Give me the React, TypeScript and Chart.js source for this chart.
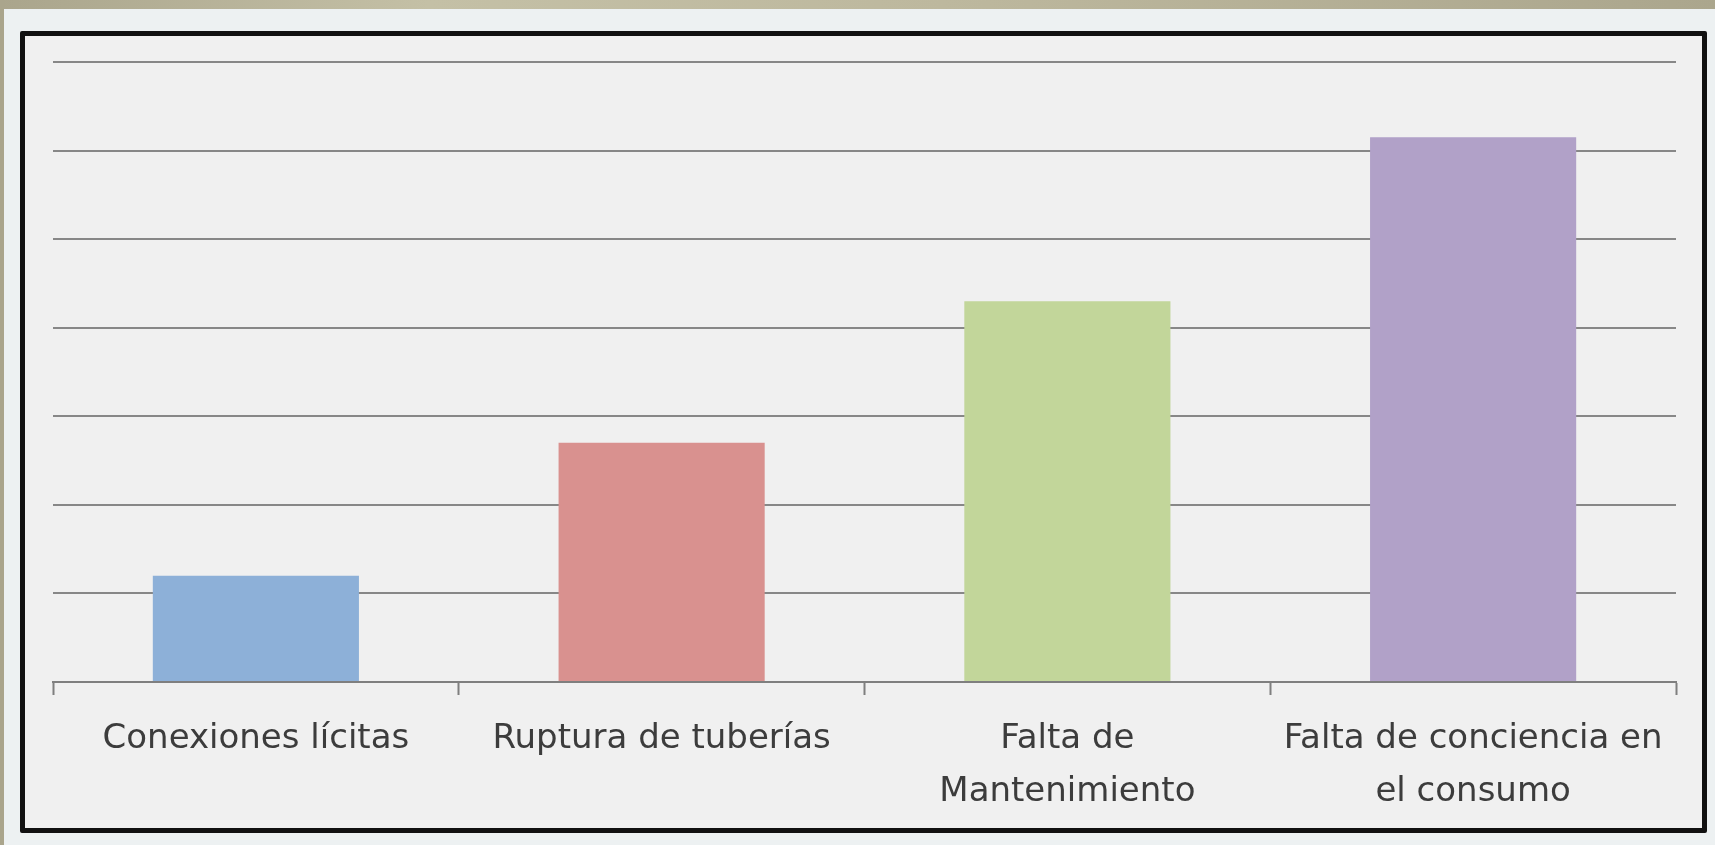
import React, { useEffect, useRef } from "react";
import { Chart, registerables } from "chart.js";

Chart.register(...registerables);

const categories: string[][] = [
  ["Conexiones lícitas"],
  ["Ruptura de tuberías"],
  ["Falta de", "Mantenimiento"],
  ["Falta de conciencia en", "el consumo"],
];
const values: number[] = [1.2, 2.7, 4.3, 6.15];
const barColors: string[] = ["#8db0d8", "#d9918f", "#c2d69a", "#b1a1c8"];
const yMin = 0;
const yMax = 7;
const yStep = 1;

export default function App() {
  const canvasRef = useRef<HTMLCanvasElement | null>(null);

  useEffect(() => {
    document.body.style.margin = "0";
    const canvas = canvasRef.current;
    if (!canvas) return;
    const chart = new Chart(canvas, {
      type: "bar",
      data: {
        labels: categories,
        datasets: [
          {
            data: values,
            backgroundColor: barColors,
            borderWidth: 0,
            barPercentage: 0.508,
            categoryPercentage: 1,
          },
        ],
      },
      options: {
        responsive: false,
        animation: false,
        layout: { padding: { left: 28, right: 26, top: 26, bottom: 0 } },
        plugins: { legend: { display: false }, tooltip: { enabled: false } },
        scales: {
          x: {
            offset: true,
            grid: {
              display: true,
              offset: true,
              drawOnChartArea: false,
              drawTicks: true,
              tickLength: 13,
              tickWidth: 2,
              tickColor: "#7f7f7f",
            },
            border: { display: true, color: "#7f7f7f", width: 2 },
            ticks: {
              padding: 18,
              color: "#3c3c3c",
              font: { family: "'DejaVu Sans', sans-serif", size: 34, lineHeight: "53px" },
              maxRotation: 0,
              minRotation: 0,
              autoSkip: false,
            },
            afterFit: (scale: any) => {
              scale.height = 146;
            },
          },
          y: {
            min: yMin,
            max: yMax,
            ticks: { display: false, stepSize: yStep },
            grid: { color: "#878787", lineWidth: 2, drawTicks: false },
            border: { display: false },
          },
        },
      },
    });
    return () => chart.destroy();
  }, []);

  return (
    <div
      style={{
        position: "relative",
        width: 1715,
        height: 845,
        background: "#edf1f2",
        overflow: "hidden",
      }}
    >
      <div
        style={{
          position: "absolute",
          left: 0,
          top: 0,
          width: 1715,
          height: 9,
          background: "linear-gradient(to right, #aaa58c, #c4c0a6 25%, #bdb89e 55%, #aba68d 100%)",
        }}
      />
      <div
        style={{
          position: "absolute",
          left: 0,
          top: 0,
          width: 4,
          height: 845,
          background: "#aaa58c",
        }}
      />
      <div
        style={{
          position: "absolute",
          left: 20,
          top: 31,
          width: 1677,
          height: 792,
          border: "5px solid #111",
          borderRadius: 2,
          background: "#f0f0f0",
        }}
      >
        <canvas ref={canvasRef} width={1677} height={792} style={{ display: "block" }} />
      </div>
    </div>
  );
}
